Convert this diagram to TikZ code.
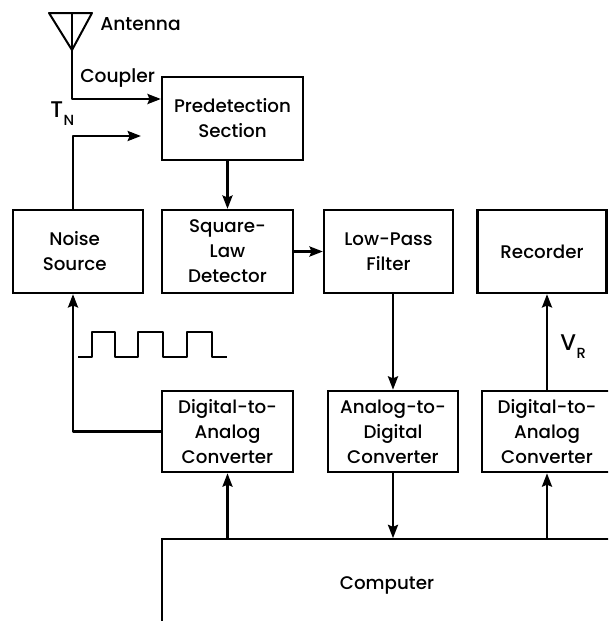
\documentclass[tikz,border=0pt]{standalone}
\usepackage{fontspec}
\setmainfont{Poppins Medium}
\usetikzlibrary{arrows.meta,positioning,calc}
\newcommand{\lowlab}[1]{\kern.5pt\raisebox{-6pt}{\fontsize{11}{12}\selectfont #1}}
\tikzset{
  blockbox/.style={draw,line width=1.7pt,align=center,inner sep=0pt,font=\fontsize{13.7}{18.8}\selectfont},
  tallbox/.style={blockbox,execute at begin node={\rule{0pt}{15pt}}},
  sig/.style={line width=1.9pt,line join=round,-{Stealth[length=10pt,width=7.5pt,inset=1.5pt]}},
  plainlab/.style={inner sep=0pt,font=\fontsize{14}{19}\selectfont},
  biglab/.style={inner sep=0pt,anchor=base west,font=\fontsize{17}{19}\selectfont},
}
\begin{document}
\begin{tikzpicture}[x=.75pt,y=-.75pt]
  \useasboundingbox (0,0) rectangle (608,621);
  \clip (0,0) rectangle (608,621);
  % blocks
  \node[tallbox,minimum width=105.75pt,minimum height=62.25pt] (pre) at (232.5,118.5) {Predetection\\Section};
  \node[tallbox,minimum width=97.5pt,minimum height=62.25pt] (noise) at (78,251.5) {\hspace*{-5pt}Noise\\\hspace*{-5pt}Source};
  \node[tallbox,minimum width=98.25pt,minimum height=62.25pt] (sq) at (227.5,251.5) {Square-\\Law\\Detector};
  \node[tallbox,minimum width=96.75pt,minimum height=62.25pt] (lpf) at (388.5,251.5) {Low-Pass\\Filter};
  \node[blockbox,minimum width=96.75pt,minimum height=62.25pt] (rec) at (542,251.5) {Recorder};
  \node[tallbox,minimum width=98.25pt,minimum height=61pt] (dac) at (227.5,431.5) {Digital-to-\\Analog\\Converter};
  \node[tallbox,minimum width=97.5pt,minimum height=61pt] (adc) at (393,431.5) {Analog-to-\\Digital\\Converter};
  \node[tallbox,minimum width=98pt,minimum height=61pt] (dacr) at (547,431.5) {Digital-to-\\Analog\\Converter};
  \node[tallbox,minimum width=338pt,minimum height=64pt] (comp) at (387,582) {Computer};
  % antenna
  \coordinate (antL) at (49,13);
  \coordinate (antR) at (92,13);
  \coordinate (antT) at (72,50);
  \draw[line width=1.5pt,line join=round] (antL)--(antR)--(antT)--cycle;
  \draw[line width=1.5pt] (72,13)--(antT);
  \node[plainlab,anchor=west] (antlab) at (100,24) {Antenna};
  \node[plainlab,anchor=west] (couplab) at (80,78) {Coupler};
  \node[biglab] (tn) at (50,117) {T\lowlab{N}};
  \node[biglab] (vr) at (560,350) {V\lowlab{R}};
  % connectors
  \coordinate (preIn) at (pre.west |- 0,99);
  \coordinate (nsEnd) at (141,136);
  \coordinate (noiseT) at ($(noise.north)+(-5,0)$);
  \coordinate (noiseB) at ($(noise.south)+(-5,0)$);
  \draw[sig] (antT) |- (preIn);
  \draw[sig] (noiseT) |- (nsEnd);
  \draw[sig] (pre.south -| sq.north)--(sq.north);
  \draw[sig] (sq.east)--(lpf.west);
  \draw[sig] (dac.west) -| (noiseB);
  \draw[sig] (lpf.south -| adc.north)--(adc.north);
  \draw[sig] (adc.south)--(adc.south |- comp.north);
  \draw[sig] (dac.south |- comp.north)--(dac.south);
  \draw[sig] (dacr.south |- comp.north)--(dacr.south);
  \draw[sig] (dacr.north)--(rec.south -| dacr.north);
  % square wave
  \draw[line width=1.8pt,line join=round] (78,357)-|(92,332)-|(115,357)-|(138,332)-|(163,357)-|(187,332)-|(212,357)--(227,357);
\end{tikzpicture}
\end{document}
